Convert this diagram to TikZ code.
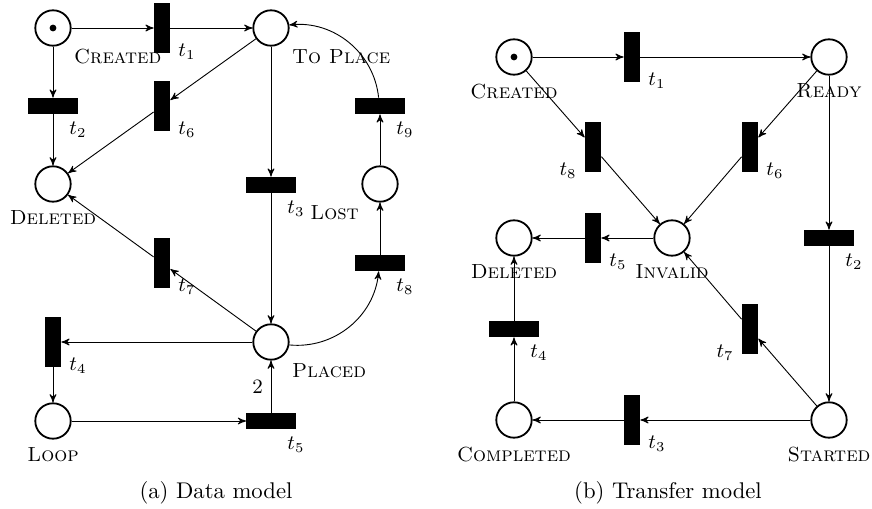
\documentclass[tikz,border=0pt]{standalone}
\usetikzlibrary{arrows}
\begin{document}
\begin{tikzpicture}[x=0.4405pt,y=-0.4405pt,>=stealth',bend angle=45,
  every label/.style={font=\small},
  place/.style={circle,draw,thick,minimum size=15.6pt,inner sep=0pt},
  vtrans/.style={rectangle,draw,fill=black,inner sep=0pt,minimum width=7pt,minimum height=21.6pt},
  htrans/.style={rectangle,draw,fill=black,inner sep=0pt,minimum width=21.6pt,minimum height=7pt},
  arc/.style={->},
  caption/.style={font=\normalsize}]
\useasboundingbox (0,0) rectangle (872,509);
% ---------- (a) Data model ----------
\node[place,label=below right:\textsc{Created}] (Lcreated) at (53,28) {};
\fill (Lcreated.center) circle (3.4);
\node[place,label=below right:\textsc{To Place}] (Ltoplace) at (271,28) {};
\node[place,label=below:\textsc{Deleted}] (Ldeleted) at (53,184) {};
\node[place,label=below left:\textsc{Lost}] (Llost) at (380,184) {};
\node[place,label=below right:\textsc{Placed}] (Lplaced) at (271,342) {};
\node[place,label=below:\textsc{Loop}] (Lloop) at (53,421) {};
\node[vtrans,label=below right:$t_1$] (Lt1) at (162,28) {};
\node[htrans,label=below right:$t_2$] (Lt2) at (53,106) {};
\node[vtrans,label=below right:$t_6$] (Lt6) at (162,106) {};
\node[htrans,label=below right:$t_3$] (Lt3) at (271,185) {};
\node[htrans,label=below right:$t_9$] (Lt9) at (380,106) {};
\node[vtrans,label=below right:$t_7$] (Lt7) at (162,263) {};
\node[htrans,label=below right:$t_8$] (Lt8) at (380,263) {};
\node[vtrans,label=below right:$t_4$] (Lt4) at (53,342) {};
\node[htrans,label=below right:$t_5$] (Lt5) at (271,421) {};
\draw[arc] (Lcreated) -- (Lt1);
\draw[arc] (Lt1) -- (Ltoplace);
\draw[arc] (Lcreated) -- (Lt2);
\draw[arc] (Lt2) -- (Ldeleted);
\draw[arc] (Ltoplace) -- (Lt6);
\draw[arc] (Lt6) -- (Ldeleted);
\draw[arc] (Ltoplace) -- (Lt3);
\draw[arc] (Lt3) -- (Lplaced);
\draw[arc] (Lplaced) -- (Lt7);
\draw[arc] (Lt7) -- (Ldeleted);
\draw[arc] (Lplaced) to[bend right] (Lt8);
\draw[arc] (Lt8) -- (Llost);
\draw[arc] (Llost) -- (Lt9);
\draw[arc] (Lt9) to[bend right] (Ltoplace);
\draw[arc] (Lplaced) -- (Lt4);
\draw[arc] (Lt4) -- (Lloop);
\draw[arc] (Lloop) -- (Lt5);
\draw[arc] (Lt5) -- node[left,font=\small] {2} (Lplaced);
\node[caption] (capa) at (216,493) {(a) Data model};
% ---------- (b) Transfer model ----------
\node[place,label=below:\textsc{Created}] (Rcreated) at (514,57) {};
\fill (Rcreated.center) circle (3.4);
\node[place,label=below:\textsc{Ready}] (Rready) at (829,57) {};
\node[place,label=below:\textsc{Deleted}] (Rdeleted) at (514,238) {};
\node[place,label=below:\textsc{Invalid}] (Rinvalid) at (672,238) {};
\node[place,label=below:\textsc{Completed}] (Rcompleted) at (514,420) {};
\node[place,label=below:\textsc{Started}] (Rstarted) at (829,420) {};
\node[vtrans,label=below right:$t_1$] (Rt1) at (632,57) {};
\node[vtrans,label=below left:$t_8$] (Rt8) at (593,147) {};
\node[vtrans,label=below right:$t_6$] (Rt6) at (750,147) {};
\node[vtrans,label=below right:$t_5$] (Rt5) at (593,238) {};
\node[htrans,label=below right:$t_2$] (Rt2) at (829,238) {};
\node[htrans,label=below right:$t_4$] (Rt4) at (514,329) {};
\node[vtrans,label=below left:$t_7$] (Rt7) at (750,329) {};
\node[vtrans,label=below right:$t_3$] (Rt3) at (632,420) {};
\draw[arc] (Rcreated) -- (Rt1);
\draw[arc] (Rt1) -- (Rready);
\draw[arc] (Rcreated) -- (Rt8);
\draw[arc] (Rready) -- (Rt6);
\draw[arc] (Rt8) -- (Rinvalid);
\draw[arc] (Rt6) -- (Rinvalid);
\draw[arc] (Rinvalid) -- (Rt5);
\draw[arc] (Rt5) -- (Rdeleted);
\draw[arc] (Rready) -- (Rt2);
\draw[arc] (Rt2) -- (Rstarted);
\draw[arc] (Rstarted) -- (Rt3);
\draw[arc] (Rt3) -- (Rcompleted);
\draw[arc] (Rcompleted) -- (Rt4);
\draw[arc] (Rt4) -- (Rdeleted);
\draw[arc] (Rstarted) -- (Rt7);
\draw[arc] (Rt7) -- (Rinvalid);
\node[caption] (capb) at (668,493) {(b) Transfer model};
\end{tikzpicture}
\end{document}
